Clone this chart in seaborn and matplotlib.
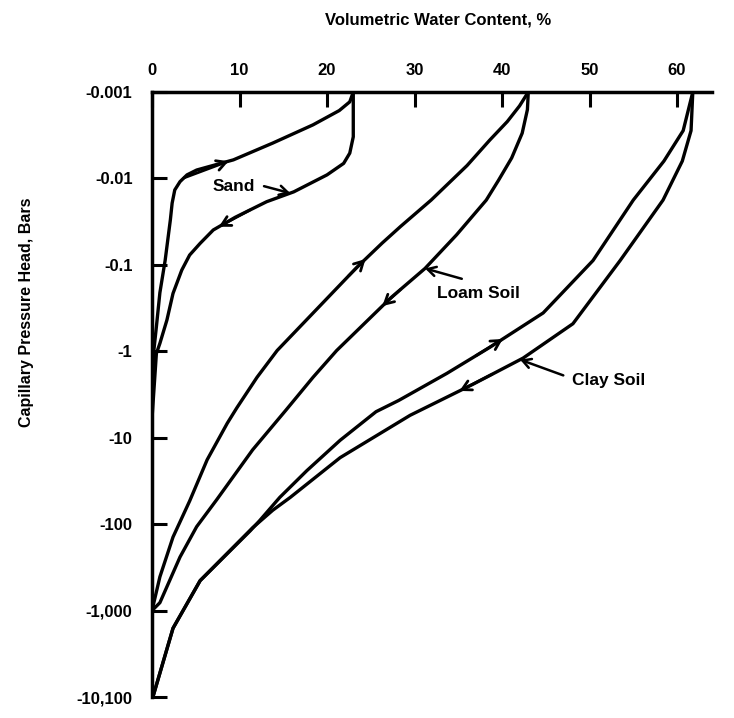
import numpy as np
import pandas as pd
import matplotlib
matplotlib.use("Agg")
import matplotlib.pyplot as plt
from matplotlib.ticker import NullLocator
import seaborn as sns

# Water retention branches: volumetric water content (%) vs capillary pressure head (bars)
sand_drying_theta = [23.0, 23.0, 22.6, 21.9, 20.0, 16.2, 13.1, 9.5, 7.0, 5.5, 4.3, 3.4, 2.4, 1.7,
                     0.9, 0.5, 0.2, 0.0]
sand_drying_head = [-0.001, -0.0033, -0.0051, -0.0067, -0.0091, -0.0143, -0.0186, -0.0282, -0.0395,
                    -0.0564, -0.077, -0.115, -0.214, -0.436, -0.81, -1.06, -3.0, -6.0]

sand_wetting_theta = [23.0, 22.6, 21.4, 18.4, 13.8, 9.3, 6.3, 5.1, 4.0, 3.2, 2.6, 2.3, 2.1, 1.5,
                      0.9, 0.5, 0.2, 0.0]
sand_wetting_head = [-0.001, -0.0013, -0.00164, -0.0024, -0.0039, -0.0061, -0.0074, -0.0080,
                     -0.0091, -0.0109, -0.0136, -0.0193, -0.030, -0.089, -0.21, -0.52, -1.0, -5.0]

loam_drying_theta = [43.0, 42.9, 42.3, 41.1, 39.6, 38.2, 34.8, 31.2, 27.3, 21.1, 18.4, 15.3, 11.5,
                     7.4, 5.1, 3.2, 0.9, 0.0]
loam_drying_head = [-0.001, -0.0016, -0.003, -0.0058, -0.0105, -0.0178, -0.045, -0.11, -0.24,
                    -0.98, -2.0, -4.8, -13.8, -52.0, -107.0, -240.0, -810.0, -1000.0]

loam_wetting_theta = [43.0, 42.0, 40.6, 38.6, 36.0, 31.9, 28.4, 26.3, 23.4, 18.9, 14.3, 12.0, 9.7,
                      8.6, 6.3, 4.3, 2.4, 0.9, 0.0]
loam_wetting_head = [-0.001, -0.00145, -0.0022, -0.0036, -0.0071, -0.0178, -0.036, -0.056, -0.107,
                     -0.32, -0.98, -2.0, -4.5, -6.8, -18.0, -54.0, -141.0, -407.0, -1000.0]

clay_drying_theta = [61.8, 61.6, 60.6, 58.4, 53.5, 48.1, 42.4, 36.7, 29.5, 21.5, 15.8, 13.8, 11.5,
                     5.5, 2.4, 0.1]
clay_drying_head = [-0.001, -0.0028, -0.0063, -0.0178, -0.089, -0.48, -1.2, -2.4, -5.5, -17.0,
                    -49.0, -69.0, -110.0, -450.0, -1600.0, -10000.0]

clay_wetting_theta = [61.8, 60.7, 58.5, 55.0, 50.4, 44.7, 38.6, 33.7, 28.2, 25.6, 21.5, 17.7, 14.6,
                      12.3, 11.2, 5.5, 2.4, 0.1]
clay_wetting_head = [-0.001, -0.0028, -0.0063, -0.0178, -0.089, -0.36, -0.90, -1.8, -3.7, -5.0,
                     -10.7, -24.0, -49.0, -91.0, -120.0, -450.0, -1600.0, -10000.0]

x_ticks = [0, 10, 20, 30, 40, 50, 60]
y_ticks = [-0.001, -0.01, -0.1, -1, -10, -100, -1000, -10000]
y_tick_labels = ["-0.001", "-0.01", "-0.1", "-1", "-10", "-100", "-1,000", "-10,100"]

curves = {
    ("Sand", "drying"): (sand_drying_theta, sand_drying_head),
    ("Sand", "wetting"): (sand_wetting_theta, sand_wetting_head),
    ("Loam", "drying"): (loam_drying_theta, loam_drying_head),
    ("Loam", "wetting"): (loam_wetting_theta, loam_wetting_head),
    ("Clay", "drying"): (clay_drying_theta, clay_drying_head),
    ("Clay", "wetting"): (clay_wetting_theta, clay_wetting_head),
}

frames = []
for (soil, branch), (theta, head) in curves.items():
    frames.append(pd.DataFrame({
        "theta": theta,
        "suction": np.abs(head),
        "curve": f"{soil} {branch}",
    }))
df = pd.concat(frames, ignore_index=True)

sns.set_theme(style="white")
plt.rcParams["font.family"] = ["Liberation Sans", "DejaVu Sans"]
plt.rcParams["font.weight"] = "bold"

fig = plt.figure(figsize=(7.34, 7.18), dpi=100)
ax = fig.add_axes([0.2071, 0.0292, 0.763, 0.8427])

sns.lineplot(data=df, x="theta", y="suction", units="curve", estimator=None, sort=False,
             color="black", lw=2.4, ax=ax, legend=False)
for line in ax.get_lines():
    line.set_solid_joinstyle("round")
    line.set_solid_capstyle("round")

ax.set_yscale("log")
ax.set_ylim(1e4, 1e-3)
ax.set_xlim(0, 64)

ax.set_yticks(np.abs(y_ticks))
ax.set_yticklabels(y_tick_labels)
ax.yaxis.set_minor_locator(NullLocator())
ax.set_xticks(x_ticks)
ax.set_xticklabels([str(t) for t in x_ticks])
ax.xaxis.tick_top()
ax.yaxis.tick_left()
ax.set_xlabel("")
ax.set_ylabel("")

ax.tick_params(axis="both", direction="in", length=11, width=2.2, color="black",
               labelsize=12, labelcolor="black")
ax.tick_params(axis="y", pad=14)
ax.tick_params(axis="x", pad=10)

for side in ("right", "bottom"):
    ax.spines[side].set_visible(False)
for side in ("left", "top"):
    ax.spines[side].set_color("black")
    ax.spines[side].set_linewidth(2.5)


def theta_at(theta, head, h):
    """Water content on a branch at suction h, interpolated in log-suction."""
    lh = np.log10(np.abs(np.asarray(head, dtype=float)))
    th = np.asarray(theta, dtype=float)
    order = np.argsort(lh)
    return float(np.interp(np.log10(h), lh[order], th[order]))


def direction_mark(key, h, upward):
    theta, head = curves[key]
    f = 1.25
    h_from, h_to = (h * f, h / f) if upward else (h / f, h * f)
    ax.annotate("", xy=(theta_at(theta, head, h_to), h_to),
                xytext=(theta_at(theta, head, h_from), h_from),
                arrowprops=dict(arrowstyle="->,head_length=0.55,head_width=0.3",
                                lw=2.0, color="black", shrinkA=0, shrinkB=0))


# wetting branches run upward, drying branches downward
direction_mark(("Sand", "wetting"), 0.0079, True)
direction_mark(("Sand", "drying"), 0.029, False)
direction_mark(("Loam", "wetting"), 0.107, True)
direction_mark(("Loam", "drying"), 0.24, False)
direction_mark(("Clay", "wetting"), 0.90, True)
direction_mark(("Clay", "drying"), 2.3, False)


def soil_label(text, key, h_target, text_xy, tail_xy):
    theta, head = curves[key]
    ax.text(text_xy[0], text_xy[1], text, ha="left", va="center", fontsize=12.5,
            fontweight="bold", color="black")
    ax.annotate("", xy=(theta_at(theta, head, h_target), h_target), xytext=tail_xy,
                arrowprops=dict(arrowstyle="->,head_length=0.5,head_width=0.28",
                                lw=1.8, color="black", shrinkA=0, shrinkB=0))


soil_label("Sand", ("Sand", "drying"), 0.0148, (6.9, 0.0123), (12.8, 0.0123))
soil_label("Loam Soil", ("Loam", "drying"), 0.11, (32.6, 0.215), (35.4, 0.145))
soil_label("Clay Soil", ("Clay", "drying"), 1.25, (48.0, 2.2), (47.0, 1.9))

fig.text(0.597, 0.972, "Volumetric Water Content, %", ha="center", va="center",
         fontsize=12, fontweight="bold", color="black")
fig.text(0.036, 0.565, "Capillary Pressure Head, Bars", ha="center", va="center",
         rotation=90, fontsize=11.5, fontweight="bold", color="black")

fig.savefig("out.png", dpi=100, facecolor="white")
